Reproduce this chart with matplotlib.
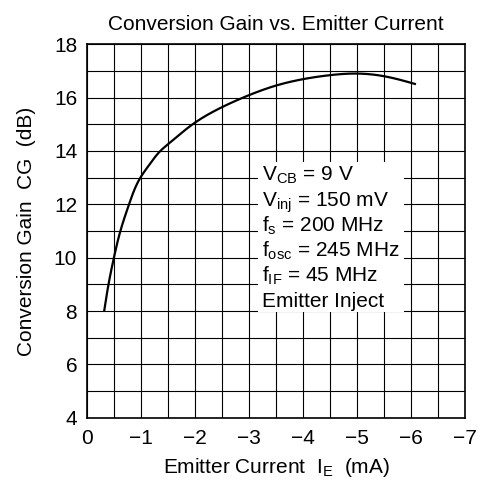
import matplotlib
matplotlib.use("Agg")
import matplotlib.pyplot as plt
from matplotlib.patches import Rectangle
import numpy as np

plt.rcParams['font.family'] = ['Liberation Sans', 'DejaVu Sans']
plt.rcParams['mathtext.fontset'] = 'custom'
plt.rcParams['mathtext.rm'] = 'Liberation Sans'
plt.rcParams['mathtext.it'] = 'Liberation Sans'

# Data (emitter current in mA, conversion gain in dB)
current = [-0.32, -0.40, -0.50, -0.62, -0.78, -0.99, -1.14, -1.36, -1.5, -2.0, -2.5, -3.0, -3.5, -4.0, -4.5, -5.0, -5.5, -6.09]
gain = [8.0, 9.0, 10.0, 11.0, 12.0, 13.0, 13.44, 14.0, 14.25, 15.06, 15.64, 16.09, 16.45, 16.69, 16.84, 16.9, 16.8, 16.5]

xticks = [0, -1, -2, -3, -4, -5, -6, -7]
yticks = [4, 6, 8, 10, 12, 14, 16, 18]
conditions = [r"V$_{\mathrm{CB}}$ = 9 V", r"V$_{\mathrm{inj}}$ = 150 mV", r"f$_{\mathrm{s}}$ = 200 MHz",
              r"f$_{\mathrm{osc}}$ = 245 MHz", r"f$_{\mathrm{IF}}$ = 45 MHz", "Emitter Inject"]

fig = plt.figure(figsize=(4.8, 4.91), dpi=100)
ax = fig.add_axes([0.181, 0.149, 0.788, 0.761])

xs = np.array(current)
ys = np.array(gain)
t = np.concatenate([[0], np.cumsum(np.hypot(np.diff(xs) / 7, np.diff(ys) / 14))])
tt = np.linspace(0, t[-1], 800)

def natural_spline(t, v, tt):
    n = len(t)
    h = np.diff(t)
    A = np.zeros((n, n))
    b = np.zeros(n)
    A[0, 0] = 1
    A[-1, -1] = 1
    for i in range(1, n - 1):
        A[i, i - 1] = h[i - 1]
        A[i, i] = 2 * (h[i - 1] + h[i])
        A[i, i + 1] = h[i]
        b[i] = 6 * ((v[i + 1] - v[i]) / h[i] - (v[i] - v[i - 1]) / h[i - 1])
    M = np.linalg.solve(A, b)
    idx = np.clip(np.searchsorted(t, tt, side='right') - 1, 0, n - 2)
    t0, t1 = t[idx], t[idx + 1]
    hh = t1 - t0
    a = (t1 - tt) / hh
    c = (tt - t0) / hh
    return (a * v[idx] + c * v[idx + 1]
            + ((a**3 - a) * M[idx] + (c**3 - c) * M[idx + 1]) * hh**2 / 6)

ax.plot(natural_spline(t, xs, tt), natural_spline(t, ys, tt), color='black', lw=1.6, zorder=3,
        solid_capstyle='butt', solid_joinstyle='round')

ax.set_xlim(0, -7)
ax.set_ylim(4, 18)
ax.set_xticks(xticks)
ax.set_yticks(yticks)
ax.set_xticks(np.arange(0, -7.01, -0.5), minor=True)
ax.set_yticks(np.arange(4, 18.01, 1), minor=True)
ax.grid(which='both', color='black', lw=0.8)
ax.tick_params(which='both', length=0, labelsize=15, colors='black')
ax.tick_params(axis='x', pad=8)
ax.tick_params(axis='y', pad=7)
for s in ax.spines.values():
    s.set_linewidth(1.2)

ax.add_patch(Rectangle((-3.17, 7.95), -2.70, 5.64, facecolor='white', edgecolor='none', zorder=2.5))
for i, line in enumerate(conditions):
    ax.text(-3.24, 12.87 - i * 0.944, line, fontsize=15, va='baseline', ha='left', zorder=4)

ax.set_title("Conversion Gain vs. Emitter Current", fontsize=15, pad=10)
ax.set_xlabel(r"Emitter Current  I$_{\mathrm{E}}$  (mA)", fontsize=15, labelpad=6)
ax.set_ylabel("Conversion Gain  CG  (dB)", fontsize=15, labelpad=13)

fig.savefig("out.png", dpi=100)
